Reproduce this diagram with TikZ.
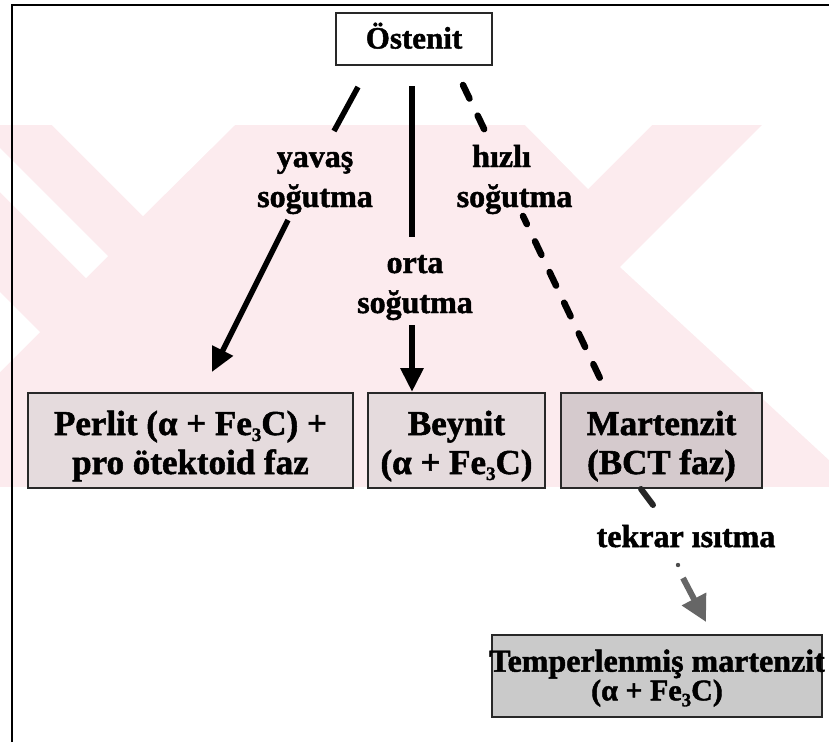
\documentclass[tikz,border=0pt]{standalone}
\usepackage{fontspec}
\setmainfont{Liberation Serif}[BoldFeatures={FakeBold=1.5}]
\usetikzlibrary{arrows.meta}

\definecolor{wmpink}{RGB}{252,235,238}
\definecolor{boxpink}{RGB}{229,219,221}
\definecolor{boxrose}{RGB}{213,202,205}
\definecolor{boxgray}{RGB}{202,202,202}
\definecolor{edge}{RGB}{40,40,40}

% invisible struts that fix the height of a first line / depth of a last line
\newcommand\upst[1]{\rule{0pt}{#1}}
\newcommand\dnst[1]{\rule[-#1]{0pt}{#1}}
% small lowered index for the carbide formula
\newcommand\idx[1]{\raisebox{-6pt}{\fontsize{19}{19}\selectfont #1}}

\begin{document}
\begin{tikzpicture}[x=1pt,y=-1pt,
  phase/.style={draw=edge, line width=2pt, inner sep=0pt, align=center,
    font=\fontsize{35}{39}\selectfont\bfseries},
  lbl/.style={inner sep=0pt, align=center,
    font=\fontsize{32}{40}\selectfont\bfseries},
  flow/.style={line width=5.5pt, black},
  head/.style={-{Triangle[length=24pt,width=22pt]}},
  quick/.style={line width=6.5pt, black, line cap=round, dash pattern=on 15pt off 19pt},
]
\useasboundingbox (0,0) rectangle (829,742);

% background watermark band
\fill[wmpink] (0,125) rectangle (829,487);
\fill[white] (52,125) -- (235,125) -- (143,216) -- cycle;
\fill[white] (0,148) -- (108,256) -- (86,278) -- (0,192) -- cycle;
\fill[white] (0,292) -- (40,332) -- (0,372) -- cycle;
\fill[white] (525,125) -- (652,125) -- (588,189) -- cycle;
\fill[white] (762,125) -- (829,125) -- (829,460) -- (620,267) -- cycle;

% frame
\draw[line width=2.2pt] (12,742) -- (12,5) -- (829,5);

% connector end points
\coordinate (ys) at (358,87);
\coordinate (ya) at (334,131);
\coordinate (yb) at (288,220);
\coordinate (ye) at (212,372);
\coordinate (os) at (412,86);
\coordinate (oa) at (412,237);
\coordinate (ob) at (412,325);
\coordinate (hs) at (463,85);
\coordinate (ha) at (486,133);
\coordinate (hb) at (523,216);
\coordinate (he) at (607,393);
\coordinate (ts) at (641,489);
\coordinate (ta) at (653,505);
\coordinate (tb) at (683,578);
\coordinate (te) at (706,622);
\coordinate (tdot) at (678,565);

% phase boxes
\node[phase, fill=white, minimum width=156pt, minimum height=52pt,
      font=\fontsize{31}{36}\selectfont\bfseries, text height=25pt, text depth=6pt]
      (ost) at (414,39) {Östenit};
\node[phase, fill=boxpink, minimum width=325pt, minimum height=95pt] (per) at (190.5,440.5)
  {\upst{36pt}Perlit (α + Fe\idx{3}C) +\\pro ötektoid faz\dnst{8pt}};
\node[phase, fill=boxpink, minimum width=177pt, minimum height=95pt] (bey) at (456.5,440.5)
  {\upst{36pt}Beynit\\(α + Fe\idx{3}C)\dnst{8pt}};
\node[phase, fill=boxrose, minimum width=201pt, minimum height=95pt] (mar) at (661.5,440.5)
  {\upst{36pt}Martenzit\\(BCT faz)\dnst{8pt}};
\node[phase, fill=boxgray, minimum width=330pt, minimum height=82pt,
      font=\fontsize{32}{27}\selectfont\bfseries] (tem) at (657,676)
  {\upst{27pt}\makebox[300pt]{Temperlenmiş martenzit}\\{\fontsize{30}{27}\selectfont(α + Fe\idx{3}C)}\dnst{7pt}};

% connectors
\draw[flow] (ys) -- (ya);
\draw[flow, head] (yb) -- (ye);
\draw[flow, line width=6.5pt] (os) -- (oa);
\draw[flow, line width=6.5pt, head] (ob) -- (ob |- bey.north);
\draw[quick] (hs) -- (ha);
\draw[quick, dash phase=6pt] (hb) -- (he);
\draw[line width=6pt, black!85, line cap=round] (ts) -- (ta);
\fill[black!70] (tdot) circle (2.2pt);
\draw[line width=6pt, black!60, -{Triangle[length=26pt,width=26pt]}] (tb) -- (te);

% labels
\node[lbl] (ylab) at (315,179.5) {\upst{22.5pt}yavaş\\soğutma\dnst{7.5pt}};
\node[lbl] (olab) at (415,285.5) {\upst{22.5pt}orta\\soğutma\dnst{7.5pt}};
\node[lbl] (hlab) at (514.5,179.5) {\upst{22.5pt}hızlı\rule{26pt}{0pt}\\soğutma\dnst{7.5pt}};
\node[lbl, anchor=base] (tlab) at (686,547) {tekrar ısıtma};
\end{tikzpicture}
\end{document}
